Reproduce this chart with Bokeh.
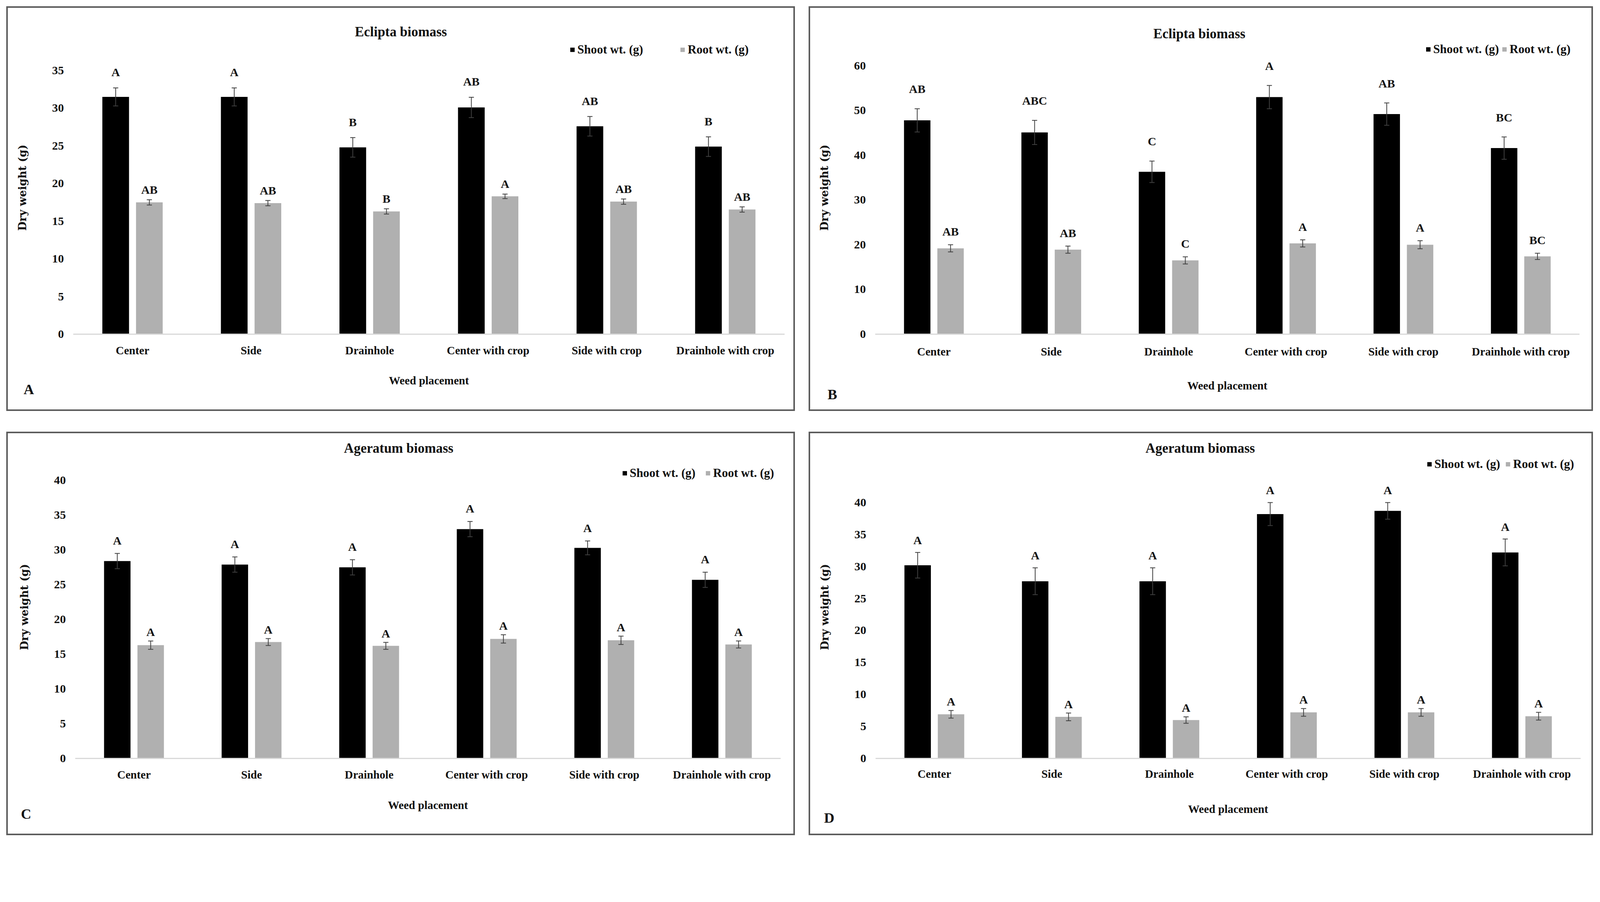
from bokeh.plotting import figure
from bokeh.models import (ColumnDataSource, FactorRange, Range1d, FixedTicker, Legend, LegendItem,
                          Title, Spacer)
from bokeh.layouts import row, column
from bokeh.transform import dodge
from bokeh.core.properties import value
from bokeh.embed import file_html
from bokeh.resources import INLINE

# ---------------- data ----------------
categories = ["Center", "Side", "Drainhole", "Center with crop", "Side with crop", "Drainhole with crop"]

A_title = "Eclipta biomass"
A_shoot = [31.5, 31.5, 24.8, 30.1, 27.6, 24.9]
A_shoot_err = [1.2, 1.2, 1.3, 1.35, 1.3, 1.3]
A_root = [17.5, 17.4, 16.3, 18.3, 17.6, 16.55]
A_root_err = [0.35, 0.35, 0.35, 0.3, 0.35, 0.35]
A_shoot_letters = ["A", "A", "B", "AB", "AB", "B"]
A_root_letters = ["AB", "AB", "B", "A", "AB", "AB"]
A_ticks = [0, 5, 10, 15, 20, 25, 30, 35]

B_title = "Eclipta biomass"
B_shoot = [47.8, 45.1, 36.3, 53.0, 49.2, 41.6]
B_shoot_err = [2.6, 2.7, 2.4, 2.6, 2.5, 2.5]
B_root = [19.2, 18.9, 16.5, 20.3, 20.0, 17.4]
B_root_err = [0.8, 0.8, 0.8, 0.8, 0.9, 0.7]
B_shoot_letters = ["AB", "ABC", "C", "A", "AB", "BC"]
B_root_letters = ["AB", "AB", "C", "A", "A", "BC"]
B_ticks = [0, 10, 20, 30, 40, 50, 60]

C_title = "Ageratum biomass"
C_shoot = [28.4, 27.9, 27.5, 33.0, 30.3, 25.7]
C_shoot_err = [1.1, 1.1, 1.1, 1.1, 1.0, 1.1]
C_root = [16.3, 16.75, 16.2, 17.2, 17.0, 16.4]
C_root_err = [0.6, 0.5, 0.5, 0.6, 0.6, 0.5]
C_shoot_letters = ["A", "A", "A", "A", "A", "A"]
C_root_letters = ["A", "A", "A", "A", "A", "A"]
C_ticks = [0, 5, 10, 15, 20, 25, 30, 35, 40]

D_title = "Ageratum  biomass"
D_shoot = [30.2, 27.7, 27.7, 38.2, 38.7, 32.2]
D_shoot_err = [2.0, 2.1, 2.1, 1.8, 1.3, 2.1]
D_root = [6.9, 6.5, 6.0, 7.2, 7.2, 6.6]
D_root_err = [0.6, 0.6, 0.5, 0.6, 0.6, 0.6]
D_shoot_letters = ["A", "A", "A", "A", "A", "A"]
D_root_letters = ["A", "A", "A", "A", "A", "A"]
D_ticks = [0, 5, 10, 15, 20, 25, 30, 35, 40]

series_names = ["Shoot wt. (g)", "Root wt. (g)"]
x_label = "Weed placement"
y_label = "Dry weight (g)"

# ---------------- style ----------------
S = 1 / 1.061          # page px per picture px (the page is shown slightly magnified)
SERIF = "Liberation Serif"
SHOOT_COLOR = "#000000"
ROOT_COLOR = "#b0b0b0"
ERR_COLOR = "#404040"
TXT = "#111111"
BAR_W = 0.225
OFF = 0.142


def px(v):
    return "%.1fpx" % (v * S)


def iv(v):
    return int(round(v * S))


def make_panel(letter, title, shoot, shoot_err, root, root_err, sl, rl, ticks, g):
    W, H = iv(g["W"]), iv(g["H"])
    top, bottom, left, right = iv(g["top"]), iv(g["bottom"]), iv(g["left"]), iv(g["right"])
    frame_h = H - top - bottom
    yend = frame_h / (g["pxu"] * S)
    p = figure(width=W, height=H, x_range=FactorRange(*categories),
               y_range=Range1d(0, yend), output_backend="svg", toolbar_location=None,
               min_border_left=left, min_border_right=right,
               min_border_top=top, min_border_bottom=bottom,
               background_fill_color="white", border_fill_color="white",
               styles={"border": "%dpx solid #5c5c5c" % iv(4), "box-sizing": "border-box"})
    p.outline_line_color = None
    p.xgrid.grid_line_color = None
    p.ygrid.grid_line_color = None

    src = ColumnDataSource(dict(
        cat=categories, shoot=shoot, root=root,
        s_lo=[v - e for v, e in zip(shoot, shoot_err)], s_hi=[v + e for v, e in zip(shoot, shoot_err)],
        r_lo=[v - e for v, e in zip(root, root_err)], r_hi=[v + e for v, e in zip(root, root_err)],
        sl=sl, rl=rl))

    xs = dodge("cat", -OFF, range=p.x_range)
    xr = dodge("cat", OFF, range=p.x_range)
    b1 = p.vbar(x=xs, top="shoot", width=BAR_W, source=src, fill_color=SHOOT_COLOR, line_color=None)
    b2 = p.vbar(x=xr, top="root", width=BAR_W, source=src, fill_color=ROOT_COLOR, line_color=None)

    for x, lo, hi in ((xs, "s_lo", "s_hi"), (xr, "r_lo", "r_hi")):
        p.segment(x0=x, x1=x, y0=lo, y1=hi, source=src, line_color=ERR_COLOR, line_width=2)
        p.scatter(x=x, y=hi, source=src, marker="dash", size=14 * S, line_color=ERR_COLOR, line_width=2)
        p.scatter(x=x, y=lo, source=src, marker="dash", size=14 * S, line_color=ERR_COLOR, line_width=2)

    p.text(x=xs, y="s_hi", text="sl", source=src, y_offset=-g["soff"] * S, text_align="center",
           text_baseline="alphabetic", text_font=value(SERIF), text_font_style="bold",
           text_font_size=px(32), text_color=TXT)
    p.text(x=xr, y="r_hi", text="rl", source=src, y_offset=-g["roff"] * S, text_align="center",
           text_baseline="alphabetic", text_font=value(SERIF), text_font_style="bold",
           text_font_size=px(32), text_color=TXT)

    # axes
    ya = p.yaxis[0]
    ya.ticker = FixedTicker(ticks=ticks)
    ya.axis_line_color = None
    ya.major_tick_line_color = None
    ya.minor_tick_line_color = None
    ya.major_tick_out = 0
    ya.major_label_text_font = SERIF
    ya.major_label_text_font_style = "bold"
    ya.major_label_text_font_size = px(32)
    ya.major_label_text_color = TXT
    ya.major_label_standoff = iv(25)
    ya.axis_label = y_label
    ya.axis_label_text_font = "DejaVu Serif"
    ya.axis_label_text_font_style = "bold"
    ya.axis_label_text_font_size = px(29)
    ya.axis_label_text_color = TXT
    ya.axis_label_standoff = iv(60)

    xa = p.xaxis[0]
    xa.axis_line_color = "#d9d9d9"
    xa.axis_line_width = 3
    xa.major_tick_line_color = None
    xa.minor_tick_line_color = None
    xa.major_tick_out = 0
    xa.major_label_text_font = SERIF
    xa.major_label_text_font_style = "bold"
    xa.major_label_text_font_size = px(31)
    xa.major_label_text_color = TXT
    xa.major_label_standoff = iv(g["xls"])
    xa.axis_label = x_label
    xa.axis_label_text_font = SERIF
    xa.axis_label_text_font_style = "bold"
    xa.axis_label_text_font_size = px(31)
    xa.axis_label_text_color = TXT
    xa.axis_label_standoff = iv(g["xas"])

    legend = Legend(items=[LegendItem(label=series_names[0], renderers=[b1]),
                           LegendItem(label=series_names[1], renderers=[b2])],
                    orientation="horizontal", location=(iv(g["lx"]), iv(g["ly"])),
                    border_line_color=None, background_fill_alpha=0, padding=0, margin=0,
                    spacing=iv(g["lsp"]), glyph_width=iv(15), glyph_height=iv(15),
                    label_standoff=iv(6),
                    label_text_font=SERIF, label_text_font_style="bold",
                    label_text_font_size=px(33), label_text_color=TXT)
    p.add_layout(legend, "center")

    t = Title(text=title, align="left", offset=iv(g["toff"]), standoff=iv(g["tstand"]),
              text_font=SERIF, text_font_style="bold", text_font_size=px(37), text_color=TXT)
    p.add_layout(t, "above")

    pl = Title(text=letter, align="left", offset=iv(g["poff"]), standoff=iv(-40),
               text_font=SERIF, text_font_style="bold", text_font_size=px(39), text_color=TXT)
    p.add_layout(pl, "below")
    return p


# geometry in picture pixels
geoA = dict(W=2142, H=1099, left=177, right=33, top=90, bottom=213, pxu=20.46,
            soff=42, roff=27, lx=1349, ly=753, lsp=100, toff=765, tstand=11,
            xls=27, xas=45, poff=-135)
geoB = dict(W=2130, H=1099, left=176, right=41, top=90, bottom=213, pxu=12.15,
            soff=53, roff=35, lx=1495, ly=754, lsp=7, toff=755, tstand=0,
            xls=30, xas=55, poff=-129)
geoC = dict(W=2142, H=1096, left=183, right=43, top=60, bottom=213, pxu=18.875,
            soff=35, roff=24, lx=1485, ly=755, lsp=27, toff=730, tstand=0,
            xls=27, xas=46, poff=-147)
geoD = dict(W=2130, H=1096, left=177, right=38, top=60, bottom=213, pxu=17.375,
            soff=33, roff=24, lx=1497, ly=780, lsp=14, toff=733, tstand=0,
            xls=24, xas=58, poff=-140)

pA = make_panel("A", A_title, A_shoot, A_shoot_err, A_root, A_root_err, A_shoot_letters, A_root_letters, A_ticks, geoA)
pB = make_panel("B", B_title, B_shoot, B_shoot_err, B_root, B_root_err, B_shoot_letters, B_root_letters, B_ticks, geoB)
pC = make_panel("C", C_title, C_shoot, C_shoot_err, C_root, C_root_err, C_shoot_letters, C_root_letters, C_ticks, geoC)
pD = make_panel("D", D_title, D_shoot, D_shoot_err, D_root, D_root_err, D_shoot_letters, D_root_letters, D_ticks, geoD)

layout = column(Spacer(height=16),
                row(Spacer(width=16), pA, Spacer(width=iv(37)), pB),
                Spacer(height=iv(56)),
                row(Spacer(width=16), pC, Spacer(width=iv(37)), pD))

open("out.html", "w").write(file_html(layout, INLINE))
